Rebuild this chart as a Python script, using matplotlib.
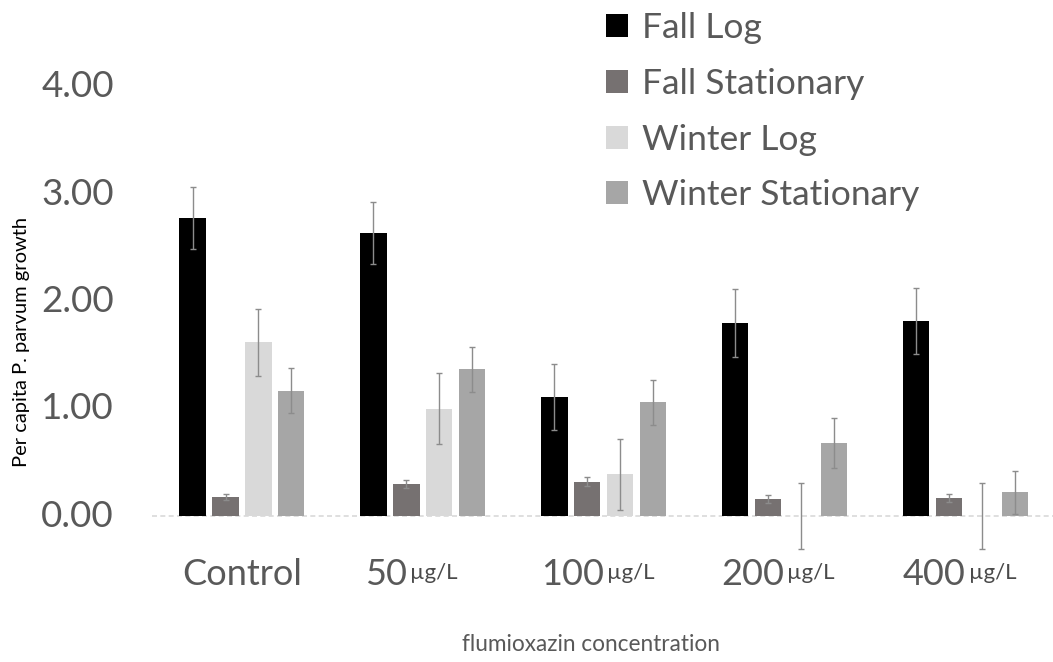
import matplotlib.pyplot as plt
import numpy as np

# Data
categories = ['Control', '50', '100', '200', '400']
units = ['', 'µg/L', 'µg/L', 'µg/L', 'µg/L']
series = ['Fall Log', 'Fall Stationary', 'Winter Log', 'Winter Stationary']
fall_log = [2.78, 2.64, 1.11, 1.80, 1.82]
fall_stat = [0.18, 0.30, 0.32, 0.16, 0.17]
winter_log = [1.62, 1.00, 0.39, 0.0, 0.0]
winter_stat = [1.17, 1.37, 1.06, 0.68, 0.22]
fall_log_err = [0.29, 0.29, 0.31, 0.32, 0.31]
fall_stat_err = [0.03, 0.04, 0.04, 0.04, 0.04]
winter_log_err = [0.31, 0.33, 0.33, 0.31, 0.31]
winter_stat_err = [0.21, 0.21, 0.21, 0.23, 0.20]

colors = ['#000000', '#767171', '#d9d9d9', '#a6a6a6']
txt = '#595959'
plt.rcParams['font.family'] = ['Lato', 'DejaVu Sans']

fig = plt.figure(figsize=(10.53, 6.62), dpi=100)
ax = fig.add_axes([0.1439, 0.1556, 0.859, 0.713])

x = np.arange(len(categories))
width = 0.145
offsets = [-0.273, -0.091, 0.091, 0.273]
values = [fall_log, fall_stat, winter_log, winter_stat]
errors = [fall_log_err, fall_stat_err, winter_log_err, winter_stat_err]

handles = []
for off, vals, errs, col, name in zip(offsets, values, errors, colors, series):
    b = ax.bar(x + off, vals, width, color=col, label=name, zorder=2)
    ax.errorbar(x + off, vals, yerr=errs, fmt='none', ecolor='#8c8c8c',
                elinewidth=1, capsize=2.5, capthick=1, zorder=3)
    handles.append(b)

ax.set_xlim(-0.5, 4.5)
ax.set_ylim(-0.4, 4.0)
ax.axhline(0, color='#d9d9d9', lw=1.2, ls=(0, (3, 2)), zorder=1)

for s in ax.spines.values():
    s.set_visible(False)
ax.set_yticks([0, 1, 2, 3, 4])
ax.set_yticklabels([f'{v:.2f}' for v in [0, 1, 2, 3, 4]], fontsize=26.5,
                   color=txt, va='center')
ax.tick_params(axis='y', length=0, pad=27)
ax.set_xticks([])

# category labels: number large, unit small
split = [0.0, -0.09, 0.0, -0.005, 0.0]
trans = ax.get_xaxis_transform()
ylab = -0.033
for xi, cat, unit, sp in zip(x, categories, units, split):
    if unit:
        ax.text(xi + sp, ylab, cat, transform=trans, ha='right', va='center',
                fontsize=26, color=txt)
        ax.text(xi + sp + 0.02, ylab + 0.004, unit, transform=trans, ha='left',
                va='center', fontsize=16, color='#4a4a4a')
    else:
        ax.text(xi, ylab, cat, transform=trans, ha='center', va='center',
                fontsize=26, color=txt)

fig.text(0.561, 0.027, 'flumioxazin concentration', ha='center', va='center',
         fontsize=16.3, color=txt)
fig.text(0.020, 0.483, 'Per capita P. parvum growth', rotation=90, ha='center',
         va='center', fontsize=14.5, color='#000000')

leg = fig.legend(handles, series, loc='upper left', bbox_to_anchor=(0.562, 1.003),
                 frameon=False, fontsize=25.5, handlelength=0.62, handleheight=0.62,
                 handletextpad=0.4, labelspacing=0.67, borderaxespad=0)
for t in leg.get_texts():
    t.set_color(txt)

fig.savefig('out.png', dpi=100)
